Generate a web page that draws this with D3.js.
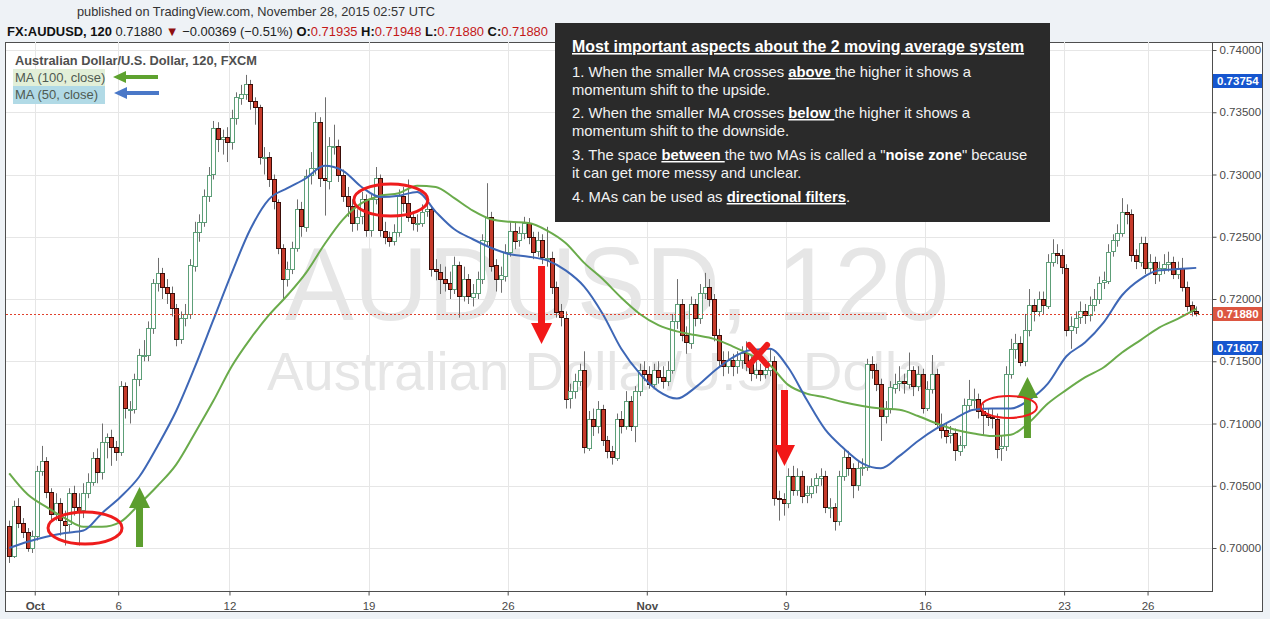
<!DOCTYPE html>
<html><head><meta charset="utf-8">
<script src="https://cdn.jsdelivr.net/npm/d3@7"></script>
<style>
html,body{margin:0;padding:0;background:#eef2f6;overflow:hidden;}
svg{display:block;font-family:"Liberation Sans",Arial,sans-serif;}
</style></head><body>
<svg id="chart" width="1270" height="619"></svg>
<script>
// ---- DATA (prices in pips above PIP_BASE; 4-hour bars) ----
const PIP_BASE = 0.70000, PIP = 0.0001;
const firstOpen = 18;
const closes = [-6,34,20,13,0,10,62,70,45,27,
36,22,19,44,33,30,44,53,72,61,
85,89,81,77,130,112,112,136,155,155,
177,213,221,210,205,193,168,185,188,227,
254,262,283,300,337,328,330,326,345,362,
365,373,359,354,314,314,296,278,241,216,
224,241,272,258,299,305,342,297,295,323,
323,300,283,275,261,266,280,255,280,297,
255,250,247,254,283,277,266,261,261,270,
272,224,222,216,213,208,227,202,216,202,
205,216,247,266,227,216,219,238,255,247,
253,261,250,238,247,233,233,210,190,185,
120,126,134,143,81,104,98,112,87,78,
73,104,98,118,98,126,143,140,132,143,
137,134,143,182,196,171,165,196,185,205,
210,200,171,151,146,151,146,151,157,149,
140,143,140,143,150,40,39,36,58,47,
58,42,44,50,56,58,33,33,22,58,
73,64,50,64,65,148,143,132,106,112,
129,132,134,132,143,130,140,113,128,140,
100,95,90,92,78,83,115,120,120,110,
107,105,104,80,82,140,160,165,150,175,
195,190,200,195,230,237,235,225,175,178,
185,190,187,195,200,213,215,238,247,253,
270,268,235,230,245,225,230,220,225,228,
230,220,225,210,195,190,188];
const highs = [22,38,40,24,16,14,66,82,73,48,
44,40,30,48,50,44,52,60,77,80,
100,92,95,86,134,133,118,140,160,167,
182,216,233,225,216,210,196,190,196,232,
262,268,288,306,343,342,336,338,352,366,
372,380,376,362,356,322,318,300,280,244,
230,246,280,278,304,318,350,346,362,330,
340,328,304,290,280,272,286,284,284,306,
300,262,254,260,288,290,296,270,268,276,
278,274,232,228,226,222,234,230,226,220,
212,222,252,293,270,232,226,244,262,262,
258,266,265,254,254,252,258,238,214,196,
190,132,140,148,158,110,112,118,115,90,
82,108,110,126,122,130,148,150,146,148,
150,146,150,188,216,200,178,202,200,212,
221,216,204,176,158,158,156,158,162,166,
154,150,148,150,160,154,46,44,64,66,
64,62,50,56,60,64,62,40,36,62,
80,78,68,70,72,152,154,148,136,118,
134,140,146,140,157,146,146,144,134,155,
144,108,100,98,96,90,120,135,128,124,
116,112,112,108,90,146,168,172,170,188,
208,200,206,206,236,248,244,240,228,186,
190,198,196,202,208,218,222,244,252,260,
281,276,272,240,250,250,236,234,230,236,
238,234,230,233,214,198,194];
const lows = [-12,-8,16,8,-3,-4,6,58,40,22,
22,10,2,12,26,2,24,40,50,52,
55,72,66,70,74,104,100,108,130,150,
150,172,206,200,196,186,162,164,178,184,
222,246,258,278,296,318,316,310,320,340,
356,360,352,340,308,300,290,272,236,199,
210,220,238,250,254,292,300,290,267,288,
316,294,278,266,254,255,260,250,250,276,
250,244,242,243,250,270,262,255,254,258,
266,218,215,204,206,200,204,185,198,196,
194,200,212,242,222,206,205,214,234,240,
242,248,244,232,234,228,226,204,185,178,
112,112,120,130,76,78,90,92,82,72,
67,70,92,95,94,85,122,134,128,128,
132,128,130,140,176,166,156,160,178,180,
200,194,166,146,138,140,138,140,144,142,
134,136,134,136,138,34,22,26,32,42,
42,36,36,40,44,50,28,24,14,18,
54,58,40,46,58,62,136,126,86,100,
108,124,126,124,128,122,126,108,110,124,
96,88,84,84,70,74,80,110,112,104,
90,98,96,72,70,78,136,152,146,146,
170,182,186,188,192,226,228,220,170,160,
172,180,180,182,190,196,208,212,234,242,
250,260,230,224,226,220,220,212,214,220,
222,216,216,206,190,186,186];
// moving averages, one reading every MA_STEP bars
const MA_STEP = 4;
const ma50 = [0,5,9,12,14,28,41,57,82,110,
145,183,221,256,280,289,297,307,303,290,
282,283,286,270,256,248,241,236,234,231,
223,210,188,160,140,126,120,129,142,153,
159,160,145,119,95,80,68,64,74,86,
96,104,111,112,112,119,132,154,165,181,
203,216,223,224,225];
const ma100 = [60,43,33,24,17,17,21,35,50,67,
92,118,146,168,187,203,221,244,264,277,
283,285,291,290,281,271,264,262,261,255,
245,229,216,201,188,179,174,171,168,162,
155,147,131,124,121,117,114,112,111,106,
100,95,92,90,91,101,116,127,137,145,
157,167,177,184,192];
const BARS_PER_DAY = 6, DAYS = 43;
const dayTickIndex = [1,4,8,13,18,23,28,33,38,41];
const dayTickLabels = ["Oct","6","12","19","26","Nov","9","16","23","26"];
const priceTicks = [0.700,0.705,0.710,0.715,0.720,0.725,0.730,0.735,0.740];
const lastPrice = 0.71880;
const scaleMarkers = [{v:0.73754,c:"#1656cf"},{v:0.71880,c:"#dc5641"},{v:0.71607,c:"#1656cf"}];
// annotations (bar index, price)
const arrowNotes = [
  {i:28.6, from:0.70008, to:0.70490, c:"#5c9e2e"},
  {i:115.3, from:0.72265, to:0.71639, c:"#f21818"},
  {i:167.7, from:0.71269, to:0.70659, c:"#f21818"},
  {i:220.1, from:0.70884, to:0.71373, c:"#5c9e2e"}
];
const ellipseNotes = [
  {i:16.85, p:0.70161, rx:37, ry:16, w:3},
  {i:82.8, p:0.72795, rx:37, ry:16, w:3},
  {i:216.1, p:0.71133, rx:28, ry:11, w:2}
];
const crossNote = {i:162, p:0.71550};
const noteTitle = "Most important aspects about the 2 moving average system";
const noteLines = [
  [{t:"1. When the smaller MA crosses "},{t:"above ",b:1,u:1},{t:"the higher it shows a"}],
  [{t:"momentum shift to the upside."}],
  [{t:"2. When the smaller MA crosses "},{t:"below ",b:1,u:1},{t:"the higher it shows a"}],
  [{t:"momentum shift to the downside."}],
  [{t:"3. The space "},{t:"between ",b:1,u:1},{t:"the two MAs is called a \""},{t:"noise zone",b:1},{t:"\" because"}],
  [{t:"it can get more messy and unclear."}],
  [{t:"4. MAs can be used as "},{t:"directional filters",b:1,u:1},{t:"."}]
];
const noteBaselines = [77,95,118,136,160,178,202];

// ---- DRAW ----
const svg = d3.select("#chart");
const P = {l:6, r:1212, t:42, b:591};
const toPrice = v => PIP_BASE + v*PIP;
const x = d3.scaleLinear().domain([0, DAYS*BARS_PER_DAY]).range([6.9, 1203.2]);
const y = d3.scaleLinear().domain([0.70, 0.74]).range([548, 50]);

svg.append("rect").attr("width",1270).attr("height",619).attr("fill","#eef2f6");
svg.append("rect").attr("x",5.5).attr("y",42.5).attr("width",1257).attr("height",569)
  .attr("fill","#fff").attr("stroke","#4e4e4e");

svg.append("defs").append("clipPath").attr("id","plotclip").append("rect")
  .attr("x",P.l).attr("y",P.t).attr("width",P.r-P.l).attr("height",P.b-P.t);

// grid
const grid = svg.append("g").attr("stroke","#e6e6e6").attr("stroke-width",1);
grid.selectAll(".h").data(priceTicks).enter().append("line")
  .attr("x1",P.l).attr("x2",P.r).attr("y1",d=>Math.round(y(d))+0.5).attr("y2",d=>Math.round(y(d))+0.5);
grid.selectAll(".v").data(dayTickIndex).enter().append("line")
  .attr("y1",P.t).attr("y2",P.b).attr("x1",d=>Math.round(x(d*BARS_PER_DAY))+0.5).attr("x2",d=>Math.round(x(d*BARS_PER_DAY))+0.5);

// watermark
svg.append("text").attr("x",285).attr("y",320).attr("font-size",103).attr("fill","#e6e6e6").text("AUDUSD, 120");
svg.append("text").attr("x",267).attr("y",390).attr("font-size",54.5).attr("fill","#e6e6e6").text("Australian Dollar/U.S. Dollar");

const plot = svg.append("g").attr("clip-path","url(#plotclip)");

// candles
const bars = closes.map((c,i)=>{
  const o = i===0 ? firstOpen : closes[i-1];
  return {i, o:toPrice(o), c:toPrice(c), h:toPrice(Math.max(highs[i],o,c)), l:toPrice(Math.min(lows[i],o,c))};
});
const cg = plot.append("g");
cg.selectAll(".wick").data(bars).enter().append("line")
  .attr("x1",d=>Math.round(x(d.i+0.5))+0.5).attr("x2",d=>Math.round(x(d.i+0.5))+0.5)
  .attr("y1",d=>y(d.h)).attr("y2",d=>y(d.l)).attr("stroke","#6e6e6e").attr("stroke-width",1);
cg.selectAll(".body").data(bars).enter().append("rect")
  .attr("x",d=>Math.round(x(d.i+0.5))-1.5).attr("width",4)
  .attr("y",d=>Math.round(y(Math.max(d.o,d.c)))+0.5)
  .attr("height",d=>Math.max(1,Math.round(Math.abs(y(d.o)-y(d.c)))))
  .attr("fill",d=>d.c>=d.o?"#ffffff":"#c63a2a")
  .attr("stroke",d=>d.c>=d.o?"#5d9f78":"#3a0d08").attr("stroke-width",1);

// moving averages
const maLine = d3.line().x((d,k)=>x(k*MA_STEP+0.5)).y(d=>y(toPrice(d))).curve(d3.curveMonotoneX);
plot.append("path").attr("d",maLine(ma100)).attr("fill","none").attr("stroke","#6aab4b").attr("stroke-width",2);
plot.append("path").attr("d",maLine(ma50)).attr("fill","none").attr("stroke","#3e67b6").attr("stroke-width",2);

// last price line
plot.append("line").attr("x1",P.l).attr("x2",P.r).attr("y1",Math.round(y(lastPrice))+0.5).attr("y2",Math.round(y(lastPrice))+0.5)
  .attr("stroke","#e0402c").attr("stroke-dasharray","2,2");

// frame lines
svg.append("line").attr("x1",P.r+0.5).attr("x2",P.r+0.5).attr("y1",P.t).attr("y2",P.b+1).attr("stroke","#4e4e4e");
svg.append("line").attr("x1",P.l).attr("x2",P.r+1).attr("y1",P.b+0.5).attr("y2",P.b+0.5).attr("stroke","#4e4e4e");

// right axis
const ra = svg.append("g").attr("transform",`translate(${P.r+0.5},0)`)
  .call(d3.axisRight(y).tickValues(priceTicks).tickFormat(d3.format(".5f")).tickSize(4).tickPadding(3));
ra.select(".domain").remove();
ra.selectAll("line").attr("stroke","#4e4e4e");
ra.selectAll("text").attr("font-family","Liberation Sans, Arial, sans-serif").attr("font-size",11.5).attr("fill","#4a4a4a");

// price markers
const pm = svg.append("g").selectAll("g").data(scaleMarkers).enter().append("g");
pm.append("rect").attr("x",P.r+1).attr("y",d=>Math.round(y(d.v))-7).attr("width",49).attr("height",14).attr("fill",d=>d.c);
pm.append("text").attr("x",P.r+5).attr("y",d=>Math.round(y(d.v))+4).attr("font-size",11.5).attr("font-weight","bold")
  .attr("fill","#fff").text(d=>d3.format(".5f")(d.v));

// bottom axis
const ba = svg.append("g").attr("transform",`translate(0,${P.b+0.5})`)
  .call(d3.axisBottom(x).tickValues(dayTickIndex.map(d=>d*BARS_PER_DAY))
    .tickFormat((d,k)=>dayTickLabels[k]).tickSize(4).tickPadding(6));
ba.select(".domain").remove();
ba.selectAll("line").attr("stroke","#4e4e4e");
ba.selectAll("text").attr("font-family","Liberation Sans, Arial, sans-serif").attr("font-size",11.5).attr("fill","#4a4a4a")
  .attr("font-weight",(d,k)=>(dayTickLabels[k]==="Oct"||dayTickLabels[k]==="Nov")?"bold":"normal");

// annotations
const ann = svg.append("g");
function vArrow(cx, y0, y1, sw, hw, hl){
  const dir = y1>y0?1:-1, yb = y1-dir*hl;
  return `M${cx-sw/2},${y0}L${cx-sw/2},${yb}L${cx-hw/2},${yb}L${cx},${y1}L${cx+hw/2},${yb}L${cx+sw/2},${yb}L${cx+sw/2},${y0}Z`;
}
ann.selectAll(".arr").data(arrowNotes).enter().append("path")
  .attr("d",d=>vArrow(x(d.i), y(d.from), y(d.to), 7, 21, 21)).attr("fill",d=>d.c);
ann.selectAll(".ell").data(ellipseNotes).enter().append("ellipse")
  .attr("cx",d=>x(d.i)).attr("cy",d=>y(d.p)).attr("rx",d=>d.rx).attr("ry",d=>d.ry)
  .attr("fill","none").attr("stroke","#ee1c1c").attr("stroke-width",d=>d.w);
const cx0 = x(crossNote.i), cy0 = y(crossNote.p);
ann.append("path").attr("d",`M${cx0-9},${cy0-10}L${cx0+9},${cy0+10}M${cx0+9},${cy0-10}L${cx0-9},${cy0+10}`)
  .attr("stroke","#ee1c1c").attr("stroke-width",6).attr("stroke-linecap","round");

// legend
svg.append("text").attr("x",15).attr("y",65).attr("font-size",12.5).attr("font-weight","bold").attr("fill","#4f4f4f")
  .attr("textLength",242).attr("lengthAdjust","spacingAndGlyphs").text("Australian Dollar/U.S. Dollar, 120, FXCM");
svg.append("rect").attr("x",13).attr("y",69).attr("width",92).attr("height",17).attr("fill","#e2efd8");
svg.append("rect").attr("x",13).attr("y",86).attr("width",92).attr("height",18).attr("fill","#b1dae6");
svg.append("text").attr("x",15).attr("y",82).attr("font-size",13).attr("fill","#4f5a52").text("MA (100, close)");
svg.append("text").attr("x",15).attr("y",99).attr("font-size",13).attr("fill","#4f5a52").text("MA (50, close)");
function hArrowLeft(xt, xe, yc, sw, hh, hl){
  return `M${xt},${yc}L${xt+hl},${yc-hh/2}L${xt+hl},${yc-sw/2}L${xe},${yc-sw/2}L${xe},${yc+sw/2}L${xt+hl},${yc+sw/2}L${xt+hl},${yc+hh/2}Z`;
}
svg.append("path").attr("d",hArrowLeft(113,158,77,4,12,13)).attr("fill","#5ea22f");
svg.append("path").attr("d",hArrowLeft(114,159,93,4,12,13)).attr("fill","#4a78c8");

// header
svg.append("text").attr("x",256).attr("y",16).attr("text-anchor","middle").attr("font-size",13.5).attr("fill","#333")
  .attr("textLength",358).attr("lengthAdjust","spacingAndGlyphs")
  .text("published on TradingView.com, November 28, 2015 02:57 UTC");
const h2 = svg.append("text").attr("x",7).attr("y",36).attr("font-size",13).attr("fill","#222")
  .attr("textLength",541).attr("lengthAdjust","spacingAndGlyphs");
[["FX:AUDUSD, 120","bold","#111"],[" 0.71880 ","normal","#222"],["▼","normal","#8e1010"],[" \u22120.00369 (\u22120.51%) ","normal","#222"],
 ["O:","bold","#111"],["0.71935","normal","#c41818"],[" H:","bold","#111"],["0.71948","normal","#c41818"],
 [" L:","bold","#111"],["0.71880","normal","#c41818"],[" C:","bold","#111"],["0.71880","normal","#c41818"]]
 .forEach(s=>h2.append("tspan").attr("font-weight",s[1]).attr("fill",s[2]).text(s[0]));

// note box
svg.append("rect").attr("x",555).attr("y",23).attr("width",495).attr("height",199).attr("fill","#2a2a2a");
svg.append("text").attr("x",572).attr("y",52).attr("font-size",15.9).attr("font-weight","bold").attr("fill","#fff")
  .style("text-decoration","underline").text(noteTitle);
noteLines.forEach((segs,k)=>{
  const t = svg.append("text").attr("x",572).attr("y",noteBaselines[k]).attr("font-size",14.8).attr("fill","#f2f2f2")
    .attr("xml:space","preserve").style("white-space","pre");
  segs.forEach(s=>{
    const ts = t.append("tspan").text(s.t);
    if(s.b) ts.attr("font-weight","bold").attr("fill","#fff");
    if(s.u) ts.style("text-decoration","underline");
  });
});
</script>
</body></html>
